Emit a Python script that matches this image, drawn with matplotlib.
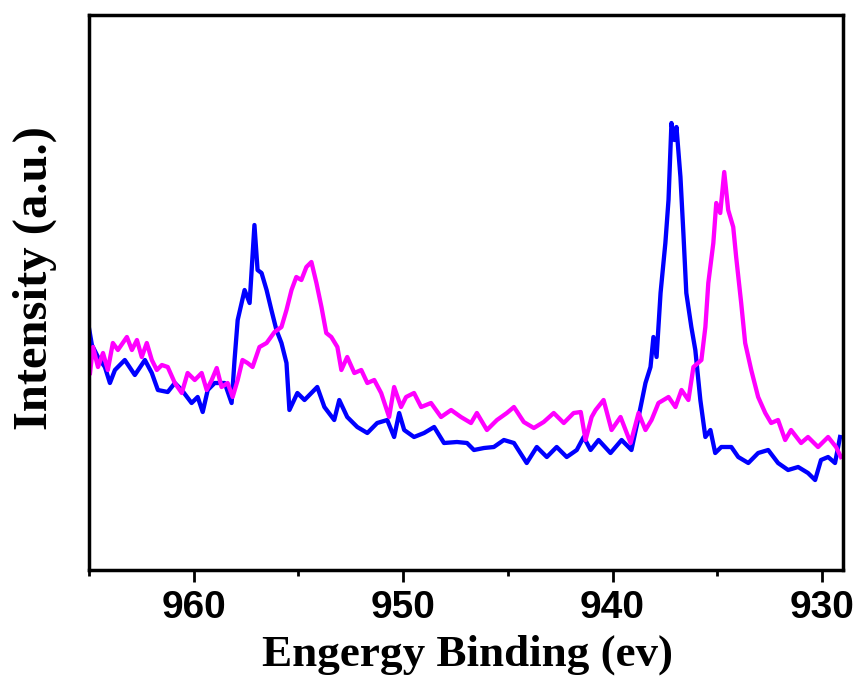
import matplotlib
matplotlib.use('Agg')
import matplotlib.pyplot as plt
from matplotlib.ticker import MultipleLocator

# blue spectrum (binding energy in eV, intensity in a.u.)
blue_energy = [965.00, 964.86, 964.57, 964.24, 964.00, 963.76, 963.29, 962.81, 962.33, 962.00,
               961.71, 961.24, 960.90, 960.57, 960.10, 959.81, 959.57, 959.33, 959.00, 958.52,
               958.19, 958.05, 957.90, 957.57, 957.33, 957.10, 956.95, 956.76, 956.52, 956.29,
               956.05, 955.81, 955.57, 955.43, 955.05, 954.71, 954.10, 953.76, 953.29, 953.05,
               952.67, 952.19, 951.71, 951.24, 950.76, 950.43, 950.19, 949.95, 949.48, 949.00,
               948.52, 948.05, 947.43, 946.95, 946.62, 946.14, 945.67, 945.19, 944.71, 944.10,
               943.62, 943.14, 942.67, 942.19, 941.71, 941.38, 941.05, 940.67, 940.10, 939.57,
               939.10, 938.76, 938.43, 938.19, 938.05, 937.90, 937.71, 937.48, 937.33, 937.19,
               937.05, 936.95, 936.76, 936.62, 936.48, 936.24, 936.05, 935.81, 935.57, 935.33,
               935.10, 934.81, 934.33, 934.00, 933.52, 933.05, 932.57, 932.10, 931.62, 931.14,
               930.67, 930.33, 930.05, 929.71, 929.38, 929.14]
blue_intensity = [242, 225, 213, 203, 187, 200, 210, 195, 210, 197,
                  180, 178, 187, 180, 167, 173, 158, 180, 187, 187,
                  167, 210, 250, 280, 267, 345, 300, 297, 280, 260,
                  240, 227, 207, 160, 177, 170, 183, 163, 150, 170,
                  153, 143, 137, 147, 150, 133, 157, 140, 133, 137,
                  143, 127, 128, 127, 120, 122, 123, 130, 127, 107,
                  123, 113, 123, 113, 120, 133, 120, 130, 117, 130,
                  120, 153, 187, 203, 233, 213, 277, 327, 370, 447,
                  430, 443, 393, 337, 277, 243, 220, 170, 133, 140,
                  117, 123, 123, 113, 107, 117, 120, 107, 100, 103,
                  97, 90, 110, 113, 107, 133]

# magenta spectrum
pink_energy = [964.95, 964.81, 964.57, 964.33, 964.10, 963.86, 963.62, 963.19, 962.95, 962.71,
               962.48, 962.24, 962.00, 961.76, 961.52, 961.24, 960.90, 960.57, 960.29, 959.95,
               959.62, 959.38, 959.14, 958.90, 958.67, 958.38, 958.14, 957.90, 957.67, 957.43,
               957.19, 956.86, 956.52, 956.14, 955.81, 955.57, 955.33, 955.10, 954.86, 954.62,
               954.38, 954.14, 953.90, 953.67, 953.43, 953.14, 952.95, 952.67, 952.33, 952.00,
               951.71, 951.38, 951.05, 950.67, 950.43, 950.10, 949.86, 949.48, 949.14, 948.67,
               948.19, 947.71, 947.24, 946.76, 946.48, 946.00, 945.52, 945.05, 944.71, 944.24,
               943.76, 943.29, 942.81, 942.33, 941.86, 941.52, 941.29, 941.00, 940.81, 940.43,
               940.05, 939.62, 939.14, 938.76, 938.43, 938.14, 937.81, 937.33, 937.00, 936.71,
               936.38, 936.14, 935.76, 935.57, 935.43, 935.19, 935.05, 934.86, 934.67, 934.48,
               934.24, 934.10, 933.86, 933.67, 933.38, 933.05, 932.71, 932.43, 932.10, 931.76,
               931.48, 931.00, 930.67, 930.19, 929.71, 929.33, 929.10]
pink_intensity = [197, 223, 203, 217, 200, 227, 220, 233, 220, 230,
                  213, 227, 210, 200, 205, 203, 187, 177, 197, 190,
                  197, 180, 190, 202, 183, 187, 173, 190, 210, 207,
                  203, 223, 227, 238, 243, 260, 280, 293, 290, 303,
                  308, 287, 263, 237, 233, 223, 200, 213, 197, 200,
                  187, 190, 177, 153, 183, 163, 173, 177, 163, 167,
                  153, 160, 153, 147, 157, 140, 150, 157, 163, 148,
                  142, 148, 157, 147, 157, 158, 130, 153, 160, 170,
                  140, 153, 127, 157, 140, 150, 167, 173, 163, 180,
                  170, 203, 210, 243, 287, 327, 367, 357, 398, 360,
                  343, 313, 267, 227, 200, 173, 157, 147, 150, 130,
                  140, 127, 133, 123, 133, 123, 113]

x_ticks = [960, 950, 940, 930]

fig = plt.figure(figsize=(8.63, 6.86), dpi=100)
ax = fig.add_axes([0.1031, 0.1691, 0.8737, 0.8090])

ax.plot(blue_energy, blue_intensity, color='#0000FF', lw=3.1, solid_joinstyle='round')
ax.plot(pink_energy, pink_intensity, color='#FF00FF', lw=3.1, solid_joinstyle='round')

ax.set_xlim(965, 929)
ax.set_ylim(0, 555)
ax.set_xticks(x_ticks)
ax.xaxis.set_minor_locator(MultipleLocator(5))
ax.set_yticks([])

for s in ax.spines.values():
    s.set_linewidth(2.5)

ax.tick_params(axis='x', which='major', direction='out', length=8.5, width=2.0,
               labelsize=28, pad=6)
ax.tick_params(axis='x', which='minor', direction='out', length=4.5, width=2.0)
for lab in ax.get_xticklabels():
    lab.set_fontfamily('Liberation Sans')
    lab.set_fontweight('bold')

# axis titles placed like in the original figure
fig.text(467 / 863, 1 - 655 / 686, 'Engergy Binding (ev)', fontfamily='Liberation Serif',
         fontweight='bold', fontsize=32.5, ha='center', va='center')
fig.text(35 / 863, 1 - 278 / 686, 'Intensity (a.u.)', fontfamily='Liberation Serif',
         fontweight='bold', fontsize=35, ha='center', va='center', rotation=90)

fig.savefig('out.png', dpi=100)
